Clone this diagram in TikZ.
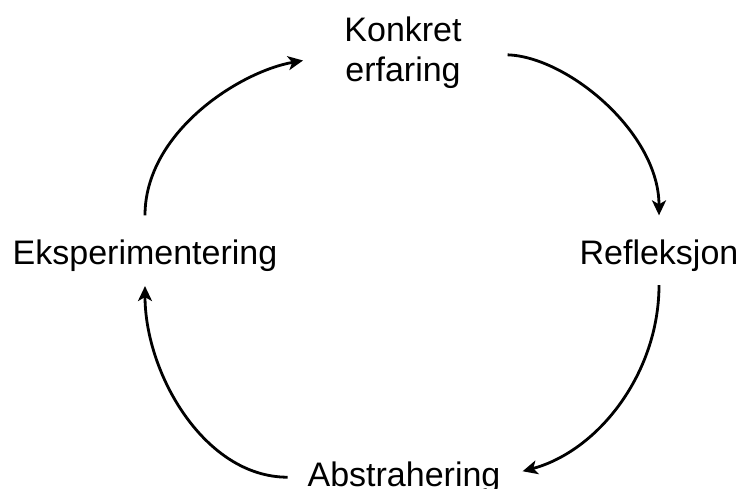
\documentclass[tikz,border=0pt]{standalone}
\usepackage{fontspec}
\setmainfont{Liberation Sans}
\usetikzlibrary{arrows.meta}

\begin{document}
\begin{tikzpicture}[x=1pt,y=1pt,
		fase/.style={inner sep=0pt,outer sep=0pt,align=center,font=\fontsize{34}{40}\selectfont},
		pil/.style={line width=2.8pt,-{Stealth[length=15pt,width=14pt,inset=4pt]}}]
		\useasboundingbox (0,0) rectangle (743,-489);% same size as the reference

		\node[fase,anchor=base] (konkret) at (403,-82) {Konkret\\erfaring};
		\node[fase,anchor=base] (refleksjon) at (659,-264) {Refleksjon};
		\node[fase,anchor=base] (abstrahering) at (404,-486) {Abstrahering};
		\node[fase,anchor=base] (eksperiment) at (145,-264) {Eksperimentering};

		\draw[pil,shorten <=24pt,shorten >=42pt] (eksperiment.north) to[out=90,in=190] (konkret.west);
		\draw[pil,shorten <=46pt,shorten >=24pt] (konkret.east) to[out=-2,in=90] (refleksjon.north);
		\draw[pil,shorten <=14pt,shorten >=23pt] (refleksjon.south) to[out=-90,in=15] (abstrahering.east);
		\draw[pil,shorten <=20pt,shorten >=15pt] (abstrahering.west) to[out=180,in=-90] (eksperiment.south);
	\end{tikzpicture}
\end{document}
